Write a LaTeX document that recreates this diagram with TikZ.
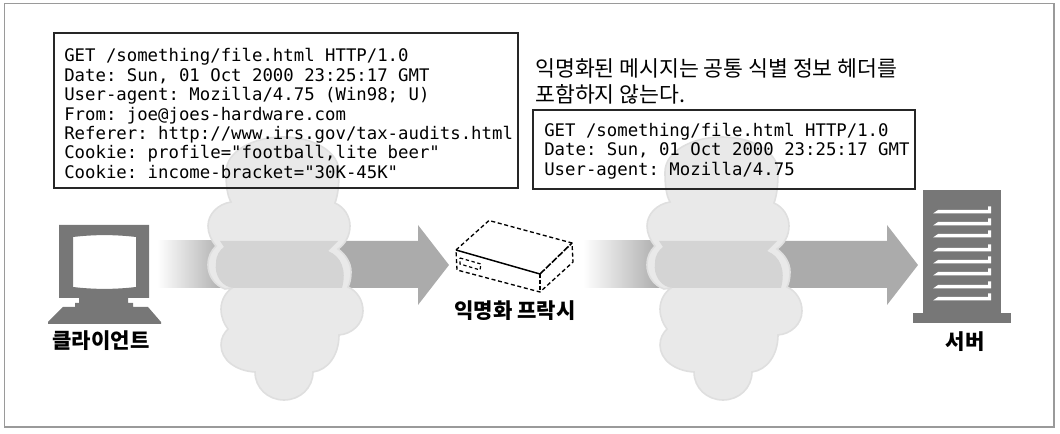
\documentclass[tikz,border=0pt]{standalone}
\usepackage{fontspec}
\setmonofont{DejaVu Sans Mono}
\newfontfamily\korfont{Noto Sans CJK KR}
\definecolor{framegray}{HTML}{9A9A9A}
\definecolor{icongray}{HTML}{777777}
\definecolor{arrowgray}{HTML}{ABABAB}
\definecolor{cloudfill}{HTML}{E9E9E9}
\definecolor{cloudedge}{HTML}{DFDFDF}
\definecolor{cloudband}{HTML}{D4D4D4}
\tikzset{
  msgframe/.style={draw=black!85, line width=1.5pt},
  msgtext/.style={anchor=west, align=left, inner sep=0pt, font=\fontsize{13}{14.6}\selectfont\ttfamily},
  labeltext/.style={font=\fontsize{15.8}{18}\selectfont\korfont\bfseries, inner sep=0pt},
  cloud/.pic={
    \filldraw[fill=cloudfill, draw=cloudedge, line width=1.2pt] (231, 202) .. controls (227, 195) and (226, 185) .. (226, 172)
      .. controls (226, 152) and (252, 137) .. (283, 137) .. controls (314, 137) and (339, 152) .. (339, 172)
      .. controls (339, 185) and (338, 195) .. (335, 203) .. controls (344, 207) and (350, 216) .. (350, 226)
      .. controls (350, 236) and (345, 244) .. (338, 249) .. controls (346, 255) and (351, 263) .. (351, 272)
      .. controls (351, 278) and (350, 283) .. (348, 287) .. controls (357, 291) and (363, 300) .. (363, 311)
      .. controls (363, 324) and (352, 334) .. (339, 335) .. controls (339, 355) and (328, 370) .. (313, 372)
      .. controls (313, 388) and (300, 400) .. (284, 400) .. controls (268, 400) and (255, 388) .. (255, 372)
      .. controls (236, 371) and (221, 360) .. (221, 345) .. controls (221, 338) and (224, 333) .. (228, 329)
      .. controls (224, 324) and (221, 317) .. (221, 309) .. controls (221, 300) and (226, 292) .. (232, 288)
      -- (225, 289) .. controls (214, 285) and (208, 275) .. (208, 265) .. controls (208, 257) and (211, 251) .. (216, 246)
      .. controls (211, 240) and (208, 233) .. (208, 226) .. controls (208, 214) and (218, 204) .. (231, 202) -- cycle;
    \fill[cloudband] (220, 241) -- (338, 241) -- (328, 251) .. controls (341, 256) and (347, 270) .. (342, 288)
      -- (235, 288) .. controls (222, 288) and (214, 275) .. (216, 263) .. controls (216, 255) and (220, 250) .. (224, 247) -- cycle;
  },
}
\begin{document}
\begin{tikzpicture}[x=0.75pt, y=-0.75pt]
  \useasboundingbox (0, 0) rectangle (1060, 434);
  \draw[framegray, line width=1pt] (4.5, 3.5) rectangle (1054, 427);

  \shade[left color=white, right color=arrowgray, shading angle=90] (157, 241) rectangle (225, 288);
  \fill[arrowgray] (224, 241) -- (418, 241) -- (418, 225) -- (449, 265) -- (418, 305) -- (418, 288) -- (224, 288) -- cycle;
  \shade[left color=white, right color=arrowgray, shading angle=90] (583, 241) rectangle (660, 288);
  \fill[arrowgray] (659, 241) -- (887, 241) -- (887, 225) -- (918, 265) -- (887, 305) -- (887, 288) -- (659, 288) -- cycle;

  \pic at (0, 0) {cloud};
  \pic at (439, 0) {cloud};

  \draw[msgframe] (53.5, 33) rectangle (517.5, 188);
  \node[msgtext] (fullmsg) at (64, 113.5) {%
    GET /something/file.html HTTP/1.0\\
    Date: Sun, 01 Oct 2000 23:25:17 GMT\\
    User-agent: Mozilla/4.75 (Win98; U)\\
    From: joe@joes-hardware.com\\
    Referer: http://www.irs.gov/tax-audits.html\\
    Cookie: profile="football,lite beer"\\
    Cookie: income-bracket="30K-45K"};
  \draw[msgframe] (533, 110) rectangle (915, 189);
  \node[msgtext] (anonmsg) at (544, 151) {%
    GET /something/file.html HTTP/1.0\\
    Date: Sun, 01 Oct 2000 23:25:17 GMT\\
    User-agent: Mozilla/4.75};
  \node[anchor=north west, inner sep=0pt, align=left, font=\fontsize{16.2}{19.5}\selectfont\korfont] (caption) at (535, 58) {%
    익명화된 메시지는 공통 식별 정보 헤더를\\
    포함하지 않는다.};

  \fill[icongray, even odd rule] (59, 225) -- (149, 225) -- (149, 298) -- (128, 298) -- (128, 303) -- (133, 303) -- (133, 307)
    -- (148, 307) -- (161, 322) -- (161, 324) -- (48, 324) -- (48, 322) -- (63, 307) -- (75, 307) -- (75, 303) -- (79, 303) -- (79, 298) -- (59, 298) -- cycle
    (73, 237) .. controls (94, 234.5) and (115, 234.5) .. (136, 237) -- (136, 287) .. controls (115, 289.5) and (94, 289.5) .. (73, 287) -- cycle;
  \node[labeltext] (client) at (101, 341) {클라이언트};

  \draw[line width=1pt, dash pattern=on 3pt off 2pt] (456, 250) -- (489, 220.5) -- (572, 243) -- (573, 262) -- (540, 292) -- (457, 270) -- cycle;
  \draw[line width=1.1pt] (456, 250) -- (540, 274);
  \draw[line width=1.2pt, dash pattern=on 5pt off 1.2pt] (540, 274) -- (572, 243);
  \draw[line width=1.2pt, dash pattern=on 3pt off 1.5pt] (540, 274) -- (540, 292);
  \draw[line width=0.9pt, dash pattern=on 2.5pt off 2pt] (460, 258) -- (481, 264) -- (480, 270) -- (460, 264) -- cycle;
  \node[labeltext] (proxy) at (515, 311) {익명화 프락시};

  \fill[icongray] (923, 190) rectangle (1001, 313);
  \fill[icongray] (913, 313) rectangle (1011, 323);
  \foreach \sy in {212, 224, 236, 250, 262, 274, 287, 299}
    \fill[white] (933, \sy + 1.5) -- (938, \sy - 2) -- (988, \sy - 2) -- (988, \sy - 5.5) -- (991, \sy - 5.5) -- (991, \sy + 1.5) -- cycle;
  \node[labeltext] (server) at (965, 342) {서버};
\end{tikzpicture}
\end{document}
